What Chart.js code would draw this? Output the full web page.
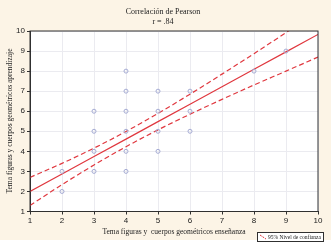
<!DOCTYPE html>
<html>
<head>
<meta charset="utf-8">
<script src="https://cdn.jsdelivr.net/npm/chart.js@4"></script>
<style>
  html, body { margin: 0; padding: 0; background: #ffffff; }
  canvas { display: block; }
</style>
</head>
<body>
<canvas id="pearsonChart" width="331" height="248"></canvas>
<script>
// scatter cases (x = enseñanza, y = aprendizaje)
const caseX = [2, 2, 3, 3, 3, 3, 4, 4, 4, 4, 4, 4, 5, 5, 5, 5, 6, 6, 6, 8, 9];
const caseY = [2, 3, 3, 4, 5, 6, 3, 4, 5, 6, 7, 8, 4, 5, 6, 7, 5, 6, 7, 8, 9];

// fitted line and 95% band
const fitX = [1, 2, 3, 4, 5, 6, 7, 8, 9, 10];
const fitY = [2.0, 2.87, 3.74, 4.61, 5.48, 6.35, 7.22, 8.09, 8.96, 9.83];
const upperY = [2.70, 3.40, 4.16, 4.99, 5.89, 6.85, 7.85, 8.87, 9.92, 10.96];
const lowerY = [1.30, 2.34, 3.32, 4.23, 5.07, 5.85, 6.59, 7.31, 8.0, 8.70];

const tickValues = [1, 2, 3, 4, 5, 6, 7, 8, 9, 10];

const titleText = ['Correlación de Pearson', 'r = .84'];
const xTitle = 'Tema figuras y  cuerpos geométricos enseñanza';
const yTitle = 'Tema figuras y cuerpos geométricos aprendizaje';
const legendText = '95% Nivel de confianza';

const toPoints = (xs, ys) => xs.map((x, i) => ({ x: x, y: ys[i] }));

const lineRed = '#e0383f';
const beige = '#fcf4e6';

// background, frame, titles and the small legend box
const decor = {
    id: 'decor',
    beforeDraw(chart) {
        const c = chart.ctx;
        const a = chart.chartArea;
        c.save();
        c.fillStyle = '#ffffff';
        c.fillRect(0, 0, chart.width, chart.height);
        c.fillStyle = beige;
        c.fillRect(0, 0, chart.width, 240);
        c.fillStyle = '#ffffff';
        c.fillRect(a.left, a.top, a.right - a.left, a.bottom - a.top);
        c.restore();
    },
    afterDraw(chart) {
        const c = chart.ctx;
        const a = chart.chartArea;
        c.save();
        c.strokeStyle = '#303030';
        c.lineWidth = 1;
        c.strokeRect(a.left, a.top, a.right - a.left, a.bottom - a.top);

        c.fillStyle = '#222';
        c.textAlign = 'center';
        c.textBaseline = 'middle';
        c.font = '8px "Liberation Serif"';
        c.fillText(titleText[0], 163, 12);
        c.fillText(titleText[1], 163, 22);

        c.font = '7.5px "Liberation Serif"';
        c.fillText(xTitle, 174, 232.5);

        c.save();
        c.translate(10.5, 121);
        c.rotate(-Math.PI / 2);
        c.fillText(yTitle, 0, 0);
        c.restore();

        // legend box
        c.fillStyle = '#ffffff';
        c.fillRect(257, 232.5, 67, 9);
        c.strokeStyle = '#303030';
        c.strokeRect(257.5, 232.5, 66, 9);
        c.strokeStyle = lineRed;
        c.setLineDash([2, 1]);
        c.beginPath();
        c.moveTo(260, 235);
        c.lineTo(266, 239);
        c.stroke();
        c.setLineDash([]);
        c.fillStyle = '#222';
        c.textAlign = 'left';
        c.font = '5.5px "Liberation Serif"';
        c.fillText(legendText, 268, 237.5);
        c.restore();
    }
};

const ctx = document.getElementById('pearsonChart').getContext('2d');
const pearsonChart = new Chart(ctx, {
    type: 'scatter',
    data: {
        datasets: [
            {
                label: 'casos',
                data: toPoints(caseX, caseY),
                pointRadius: 2,
                pointStyle: 'circle',
                borderColor: '#a6acd4',
                backgroundColor: 'rgba(0,0,0,0)',
                borderWidth: 1,
                showLine: false
            },
            {
                label: 'ajuste',
                data: toPoints(fitX, fitY),
                showLine: true,
                borderColor: lineRed,
                borderWidth: 1.2,
                pointRadius: 0
            },
            {
                label: 'sup',
                data: toPoints(fitX, upperY),
                showLine: true,
                borderColor: lineRed,
                borderWidth: 1.2,
                borderDash: [5, 3],
                pointRadius: 0,
                cubicInterpolationMode: 'monotone'
            },
            {
                label: 'inf',
                data: toPoints(fitX, lowerY),
                showLine: true,
                borderColor: lineRed,
                borderWidth: 1.2,
                borderDash: [5, 3],
                pointRadius: 0,
                cubicInterpolationMode: 'monotone'
            }
        ]
    },
    options: {
        responsive: false,
        animation: false,
        layout: { padding: { left: 0, right: 13, top: 31, bottom: 0 } },
        plugins: {
            legend: { display: false },
            title: { display: false },
            tooltip: { enabled: false }
        },
        scales: {
            x: {
                type: 'linear',
                min: 1,
                max: 10,
                afterBuildTicks: s => { s.ticks = tickValues.map(v => ({ value: v })); },
                afterFit: s => { s.height = 36.5; },
                ticks: {
                    color: '#222',
                    font: { family: '"Liberation Sans"', size: 8 },
                    padding: 1,
                    maxRotation: 0
                },
                grid: { color: '#ebebf0', tickColor: '#303030', tickLength: 3 },
                border: { color: '#303030' }
            },
            y: {
                type: 'linear',
                min: 1,
                max: 10,
                afterBuildTicks: s => { s.ticks = tickValues.map(v => ({ value: v })); },
                afterFit: s => { s.width = 30; },
                ticks: {
                    color: '#222',
                    font: { family: '"Liberation Sans"', size: 8 },
                    padding: 2
                },
                grid: { color: '#ebebf0', tickColor: '#303030', tickLength: 3 },
                border: { color: '#303030' }
            }
        }
    },
    plugins: [decor]
});
</script>
</body>
</html>
